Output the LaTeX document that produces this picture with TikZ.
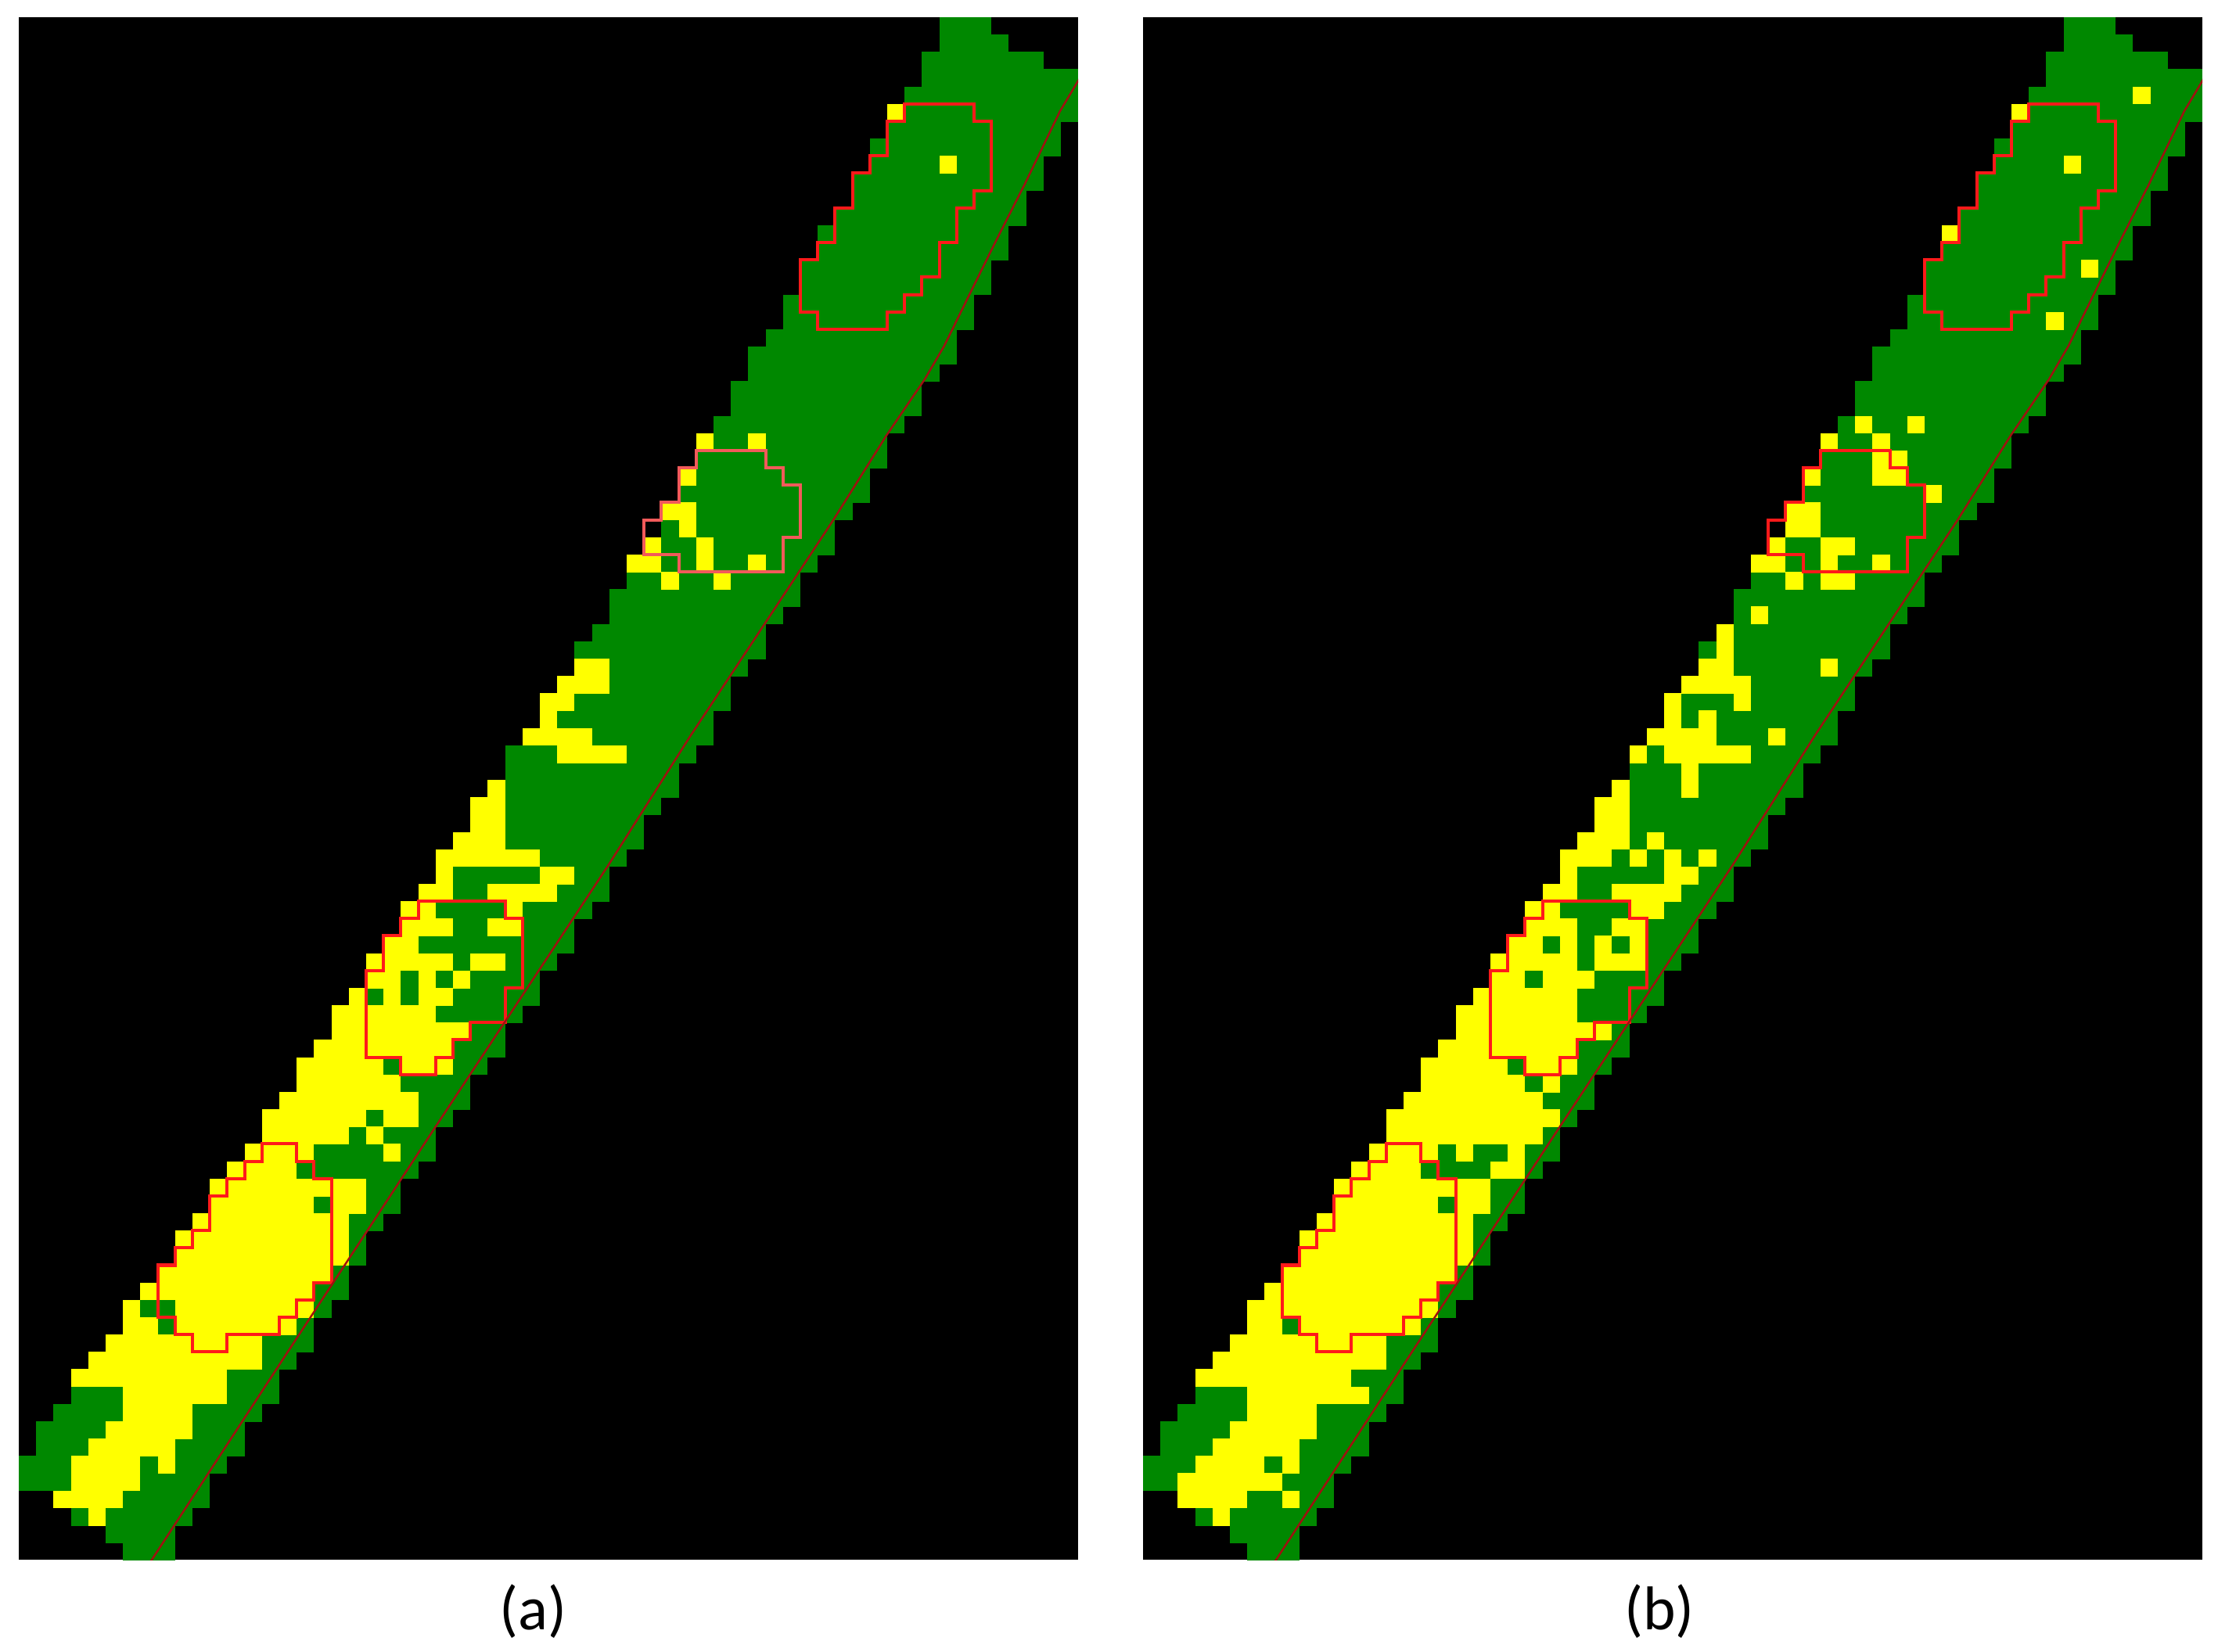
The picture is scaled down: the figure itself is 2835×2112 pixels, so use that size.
\documentclass[tikz,border=0pt]{standalone}
\usepackage{fontspec}
\setmainfont{Carlito}
\definecolor{bandgreen}{HTML}{008800}
\definecolor{pixyellow}{HTML}{FFFF00}
\definecolor{outred}{HTML}{FF1A1A}
\definecolor{softred}{HTML}{F25A5A}
\definecolor{linered}{HTML}{A01010}
\tikzset{
  outl/.style={draw=outred, line width=1.15pt, line join=miter},
  fitline/.style={draw=linered, line width=0.7pt, line join=round},
  lbl/.style={font=\fontsize{22.5}{27}\selectfont, anchor=base, inner sep=0pt}
}
\def\bandlist{0/53/56, 1/53/57, 2/52/59, 3/52/61, 4/51/61, 5/50/61, 6/50/60, 7/49/60,
8/49/59, 9/48/59, 10/48/58, 11/47/58, 12/46/57, 13/46/57, 14/45/56, 15/45/56,
16/44/55, 17/44/55, 18/43/54, 19/42/54, 20/42/53, 21/41/52, 22/41/52, 23/40/51,
24/39/50, 25/39/50, 26/38/49, 27/38/49, 28/37/48, 29/36/47, 30/36/47, 31/35/46,
32/35/45, 33/34/45, 34/34/44, 35/33/43, 36/32/43, 37/32/42, 38/31/41, 39/30/41,
40/30/40, 41/29/40, 42/28/39, 43/28/38, 44/27/38, 45/26/37, 46/26/36, 47/25/36,
48/24/35, 49/24/34, 50/23/34, 51/22/33, 52/22/32, 53/21/32, 54/20/31, 55/20/30,
56/19/30, 57/18/29, 58/18/28, 59/17/28, 60/16/27, 61/16/26, 62/15/26, 63/14/25,
64/14/24, 65/13/24, 66/12/23, 67/11/22, 68/11/22, 69/10/21, 70/9/20, 71/9/20,
72/8/19, 73/7/19, 74/6/18, 75/6/17, 76/5/17, 77/4/16, 78/3/15, 79/3/15,
80/2/14, 81/1/13, 82/1/13, 83/0/12, 84/0/11, 85/2/11, 86/3/10, 87/5/9, 88/6/9}
\def\yellowA{5/50/51, 8/53/54, 24/39/40, 24/42/43, 26/38/39, 28/37/39, 29/38/39,
30/36/37, 30/39/40, 31/35/37, 31/39/40, 31/42/43, 32/37/38, 32/40/41, 37/32/34,
38/31/34, 39/30/32, 40/30/31, 41/29/33, 42/31/35, 44/27/28, 45/26/28, 46/26/28,
47/25/28, 48/24/30, 49/24/25, 49/30/32, 50/23/25, 50/27/31, 51/22/24, 51/28/29,
52/22/25, 52/27/29, 53/21/23, 54/20/25, 54/26/28, 55/20/22, 55/23/24, 55/25/26,
56/19/20, 56/21/22, 56/23/25, 57/18/24, 58/18/26, 59/17/25, 60/16/21, 60/22/25,
61/16/22, 62/15/23, 63/14/20, 63/21/23, 64/14/19, 64/20/21, 65/13/17, 65/21/22,
66/12/16, 67/11/20, 68/11/17, 68/18/20, 69/10/19, 70/9/19, 71/9/19, 72/8/18,
73/7/17, 74/6/7, 74/9/17, 75/6/8, 75/9/16, 76/5/14, 77/4/14, 78/3/12, 79/6/12,
80/6/10, 81/5/10, 82/4/9, 83/3/7, 83/8/9, 84/3/7, 85/2/6, 86/4/5}
\def\yellowB{4/57/58, 5/50/51, 8/53/54, 12/46/47, 14/54/55, 17/52/53, 23/41/42,
23/44/45, 24/39/40, 24/42/43, 25/42/44, 26/38/39, 26/42/44, 27/45/46, 28/37/39,
29/37/39, 30/36/37, 30/39/41, 31/35/37, 31/39/40, 31/42/43, 32/37/38, 32/39/41,
34/35/36, 35/33/34, 36/33/34, 37/32/34, 37/39/40, 38/31/35, 39/30/31, 39/34/35,
40/30/31, 40/32/33, 41/29/33, 41/36/37, 42/28/29, 42/30/35, 43/31/32, 44/27/28,
44/31/32, 45/26/28, 46/26/28, 47/25/28, 47/29/30, 48/24/27, 48/28/29, 48/30/31,
48/32/33, 49/24/25, 49/30/32, 50/23/25, 50/27/31, 51/22/24, 51/28/30, 52/22/25,
52/27/29, 53/21/23, 53/24/25, 53/26/27, 53/28/29, 54/20/25, 54/26/29, 55/20/22,
55/23/26, 56/19/25, 57/18/25, 58/18/27, 59/17/25, 60/16/21, 60/22/25, 61/16/22,
61/23/24, 62/15/23, 63/14/24, 64/14/23, 65/13/17, 65/18/19, 65/21/22, 66/12/16,
66/20/22, 67/11/20, 68/11/17, 68/18/20, 69/10/19, 70/9/19, 71/9/19, 72/8/18,
73/7/17, 74/6/17, 75/6/8, 75/9/16, 76/5/14, 77/4/14, 78/3/12, 79/6/13, 80/6/10,
81/5/10, 82/4/9, 83/3/7, 83/8/9, 84/2/8, 85/2/6, 85/8/9, 86/4/5}
\newcommand\pxpanel[2]{%
  \clip (0,0) rectangle (61,89);
  \fill[black] (0,0) rectangle (61,89);
  \foreach \r/\a/\b in \bandlist {\fill[bandgreen] (\a,\r) rectangle (\b,\r+1.03);}
  \foreach \r/\a/\b in #1 {\fill[pixyellow] (\a,\r) rectangle (\b,\r+1.03);}
  \fill[black] (36,29) rectangle (37,30);
  \draw[outl] (51,5)--(55,5)--(55,6)--(56,6)--(56,10)--(55,10)--(55,11)--(54,11)--(54,13)--(53,13)--(53,15)--(52,15)--(52,16)--(51,16)--(51,17)--(50,17)--(50,18)--(46,18)--(46,17)--(45,17)--(45,14)--(46,14)--(46,13)--(47,13)--(47,11)--(48,11)--(48,9)--(49,9)--(49,8)--(50,8)--(50,6)--(51,6)--cycle;
  \draw[outl,draw=#2] (39,25)--(43,25)--(43,26)--(44,26)--(44,27)--(45,27)--(45,30)--(44,30)--(44,32)--(38,32)--(38,31)--(36,31)--(36,29)--(37,29)--(37,28)--(38,28)--(38,26)--(39,26)--cycle;
  \draw[outl] (23,51)--(28,51)--(28,52)--(29,52)--(29,56)--(28,56)--(28,58)--(26,58)--(26,59)--(25,59)--(25,60)--(24,60)--(24,61)--(22,61)--(22,60)--(20,60)--(20,55)--(21,55)--(21,53)--(22,53)--(22,52)--(23,52)--cycle;
  \draw[outl] (14,65)--(16,65)--(16,66)--(17,66)--(17,67)--(18,67)--(18,73)--(17,73)--(17,74)--(16,74)--(16,75)--(15,75)--(15,76)--(12,76)--(12,77)--(10,77)--(10,76)--(9,76)--(9,75)--(8,75)--(8,72)--(9,72)--(9,71)--(10,71)--(10,70)--(11,70)--(11,68)--(12,68)--(12,67)--(13,67)--(13,66)--(14,66)--cycle;
  \draw[fitline] (61.4,3.0)--(61.0,3.66)--(59.95,5.42)--(57.93,9.61)--(56.26,12.91)--(54.77,15.93)--(53.29,18.95)--(52.16,20.89)--(49.95,24.14)--(46.89,29.02)--(42.93,35.02)--(38.69,41.43)--(33.92,48.96)--(27.97,57.99)--(24.01,63.99)--(15.14,77.53)--(7.57,89.13);
}
\begin{document}
\begin{tikzpicture}[x=0.1mm,y=-0.1mm]
  \useasboundingbox (0,0) rectangle (2835,2112);
  \fill[white] (0,0) rectangle (2835,2112);
  \begin{scope}[shift={(24,22)},x=2.22mm,y=-2.216mm]
    \pxpanel{\yellowA}{softred}
  \end{scope}
  \begin{scope}[shift={(1461,22)},x=2.22mm,y=-2.216mm]
    \pxpanel{\yellowB}{outred}
  \end{scope}
  \node[lbl] (la) at (681.6,2083) {(a)};
  \node[lbl] (lb) at (2121,2083) {(b)};
\end{tikzpicture}
\end{document}
